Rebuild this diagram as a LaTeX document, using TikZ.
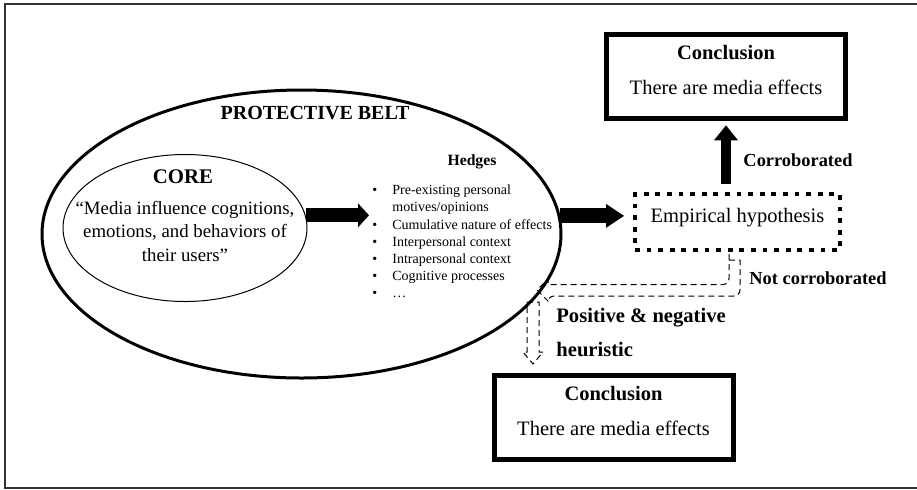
\documentclass[tikz,border=0pt]{standalone}
\usepackage{fontspec}
\setmainfont{Liberation Serif}
\usetikzlibrary{arrows.meta, positioning, calc, shapes.geometric}
\newcommand{\hedgeitem}{\makebox[10pt][l]{\textbullet}}
\newcommand{\hedgeskip}{\hspace*{10pt}}

\begin{document}
\begin{tikzpicture}[
    x=0.5pt, y=-0.5pt,
    box/.style={
      rectangle, draw, line width=2.5pt, minimum width=119.5pt, minimum height=42pt,
      inner sep=0pt, align=center, text depth=6pt,
      font=\fontsize{10.25pt}{17.5pt}\selectfont
    },
    hypbox/.style={
      rectangle, draw, line width=2pt, dash pattern=on 2.4pt off 3.4pt,
      minimum width=102.5pt, minimum height=28pt, inner sep=0pt,
      text height=7pt, text depth=6.3pt, font=\fontsize{10.25pt}{12pt}\selectfont
    },
    oval/.style={ellipse, draw, inner sep=0pt},
    arrow/.style={-{Triangle[length=#1, width=12pt, line width=0pt]}},
    hollow/.style={draw, line width=0.5pt, dash pattern=on 3pt off 2pt},
    lbl/.style={font=\bfseries\fontsize{9.2pt}{11pt}\selectfont, inner sep=0pt},
]
  \useasboundingbox (0,0) rectangle (917,489);
  \draw[line width=1pt, black!80] (5,4) rectangle (940,488);

  \node[oval, line width=1.5pt, minimum width=259.5pt, minimum height=144pt] (belt) at (301.5,234) {};
  \node[oval, line width=0.5pt, minimum width=122pt, minimum height=73.5pt] (core) at (185,228) {};
  \node[font=\bfseries\fontsize{10pt}{12pt}\selectfont] (belttitle) at (315,113) {PROTECTIVE BELT};
  \node[font=\bfseries\fontsize{10.4pt}{12pt}\selectfont] (coretitle) at (183,177) {CORE};
  \node[align=center, font=\fontsize{9.4pt}{11.75pt}\selectfont] (coretext) at (185,231)
    {“Media influence cognitions,\\emotions, and behaviors of\\their users”};
  \node[font=\bfseries\fontsize{7.85pt}{9pt}\selectfont] (hedgetitle) at (472,162) {Hedges};
  \node[anchor=west, align=left, inner sep=0pt, font=\fontsize{7pt}{8.58pt}\selectfont] (hedges) at (372,241.5)
    {\hedgeitem Pre-existing personal\\\hedgeskip motives/opinions\\\hedgeitem Cumulative nature of effects\\
     \hedgeitem Interpersonal context\\\hedgeitem Intrapersonal context\\\hedgeitem Cognitive processes\\\hedgeitem …};

  \node[hypbox] (hyp) at (737.5,222) {Empirical hypothesis};
  \node[box] (top) at (726,76.25) {\textbf{Conclusion}\\There are media effects};
  \node[box] (bot) at (613.5,417) {\textbf{Conclusion}\\There are media effects};

  \node[lbl] (corr) at (798,160) {Corroborated};
  \node[lbl] (notcorr) at (818,278) {Not corroborated};
  \node[lbl, font=\bfseries\fontsize{10.3pt}{17pt}\selectfont, anchor=west, align=left] (heur) at (556,332)
    {Positive \& negative\\heuristic};

  \draw[arrow=5.5pt, line width=7pt, shorten >=1.5pt] (core.6) -- (core.6 -| hedges.west);
  \draw[arrow=9pt, line width=7.5pt, shorten >=4.5pt] (belt.4) -- (belt.4 -| hyp.west);
  \draw[arrow=7.5pt, line width=5pt, shorten <=4pt, shorten >=2.3pt] (hyp.north -| top.south) -- (top.south);

  \coordinate (nc) at ($(hyp.south)+(-8.5,8)$);
  \draw[hollow] (nc) -- ++(11,0) [rounded corners=3pt] -- ++(0,36) -- ++(-192,0) [sharp corners] -- ++(0,5)
    -- ++(-11,-11) -- ++(11,-11) -- ++(0,5.5) [rounded corners=3pt] -- ++(181,0) -- ++(0,-24.5) [sharp corners] -- cycle;
  \coordinate (pn) at ($(bot.north)+(-86.5,-70.5)$);
  \draw[hollow] (pn) -- ++(12,0) -- ++(0,50) -- ++(4,0) -- ++(-10,12) -- ++(-10,-12) -- ++(4,0) -- cycle;
\end{tikzpicture}
\end{document}
